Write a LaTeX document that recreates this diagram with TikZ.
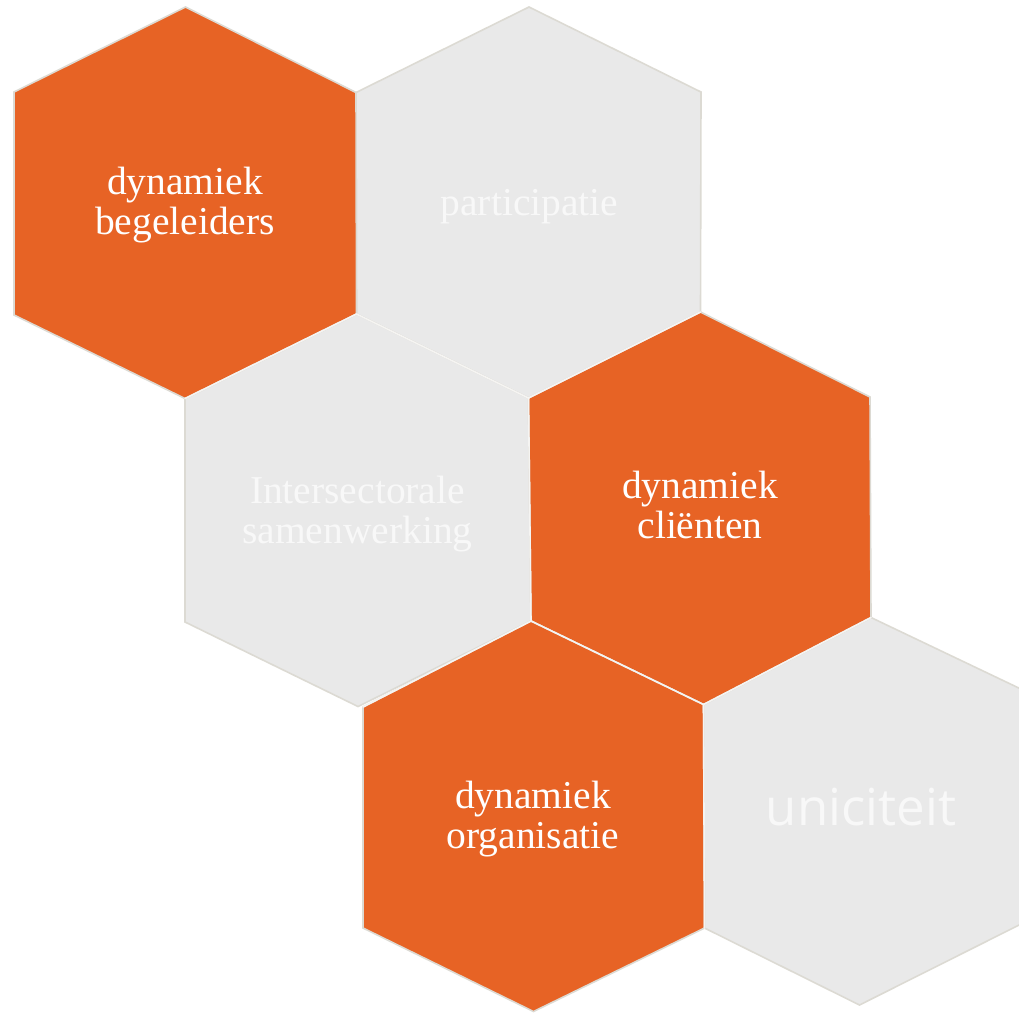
\documentclass[tikz,border=0pt]{standalone}
\usepackage{fontspec}
\setmainfont{Liberation Serif}
\newfontfamily\hexsans{Open Sans}
\definecolor{hexorange}{RGB}{231,99,37}
\definecolor{hexgrey}{RGB}{233,233,233}
\definecolor{hexedge}{RGB}{220,218,211}
\definecolor{hexinner}{RGB}{245,244,242}
\definecolor{greytext}{RGB}{248,248,248}
\begin{document}
\begin{tikzpicture}[x=1pt,y=-1pt,
  orangehex/.style={fill=hexorange,draw=hexedge,line width=1.6pt,line join=miter},
  greyhex/.style={fill=hexgrey,draw=hexedge,line width=1.6pt,line join=miter},
  inneredge/.style={draw=hexinner,line width=1.6pt,line cap=round},
  serlabel/.style={anchor=base,inner sep=0pt,font=\fontsize{39.5}{40}\selectfont},
  onorange/.style={serlabel,text=white},
  ongrey/.style={serlabel,text=greytext}]
\useasboundingbox (0,0) rectangle (1019,1013);
\clip (0,0) rectangle (1019,1013);
% vertices
\coordinate (p1) at (185.5,7);
\coordinate (p2) at (14,92);
\coordinate (p3) at (14,315);
\coordinate (p4) at (185,398.5);
\coordinate (p5) at (356,92.5);
\coordinate (p6) at (356.5,314);
\coordinate (p7) at (529,7);
\coordinate (p8) at (701,92);
\coordinate (p9) at (700.5,312);
\coordinate (p10) at (528.5,398);
\coordinate (p11) at (185,622);
\coordinate (p12) at (358,706.5);
\coordinate (p13) at (531,621);
\coordinate (p14) at (870,397);
\coordinate (p15) at (871,617.5);
\coordinate (p16) at (703.5,704.5);
\coordinate (p18) at (363,707);
\coordinate (p19) at (704.5,928);
\coordinate (p20) at (533.5,1011.5);
\coordinate (p21) at (363,928);
\coordinate (p22) at (859.5,1005);
\coordinate (p23) at (1045,912);
\coordinate (p24) at (1045,700.5);
% grey hexagons
\draw[greyhex] (p7) -- (p8) -- (p9) -- (p10) -- (p6) -- (p5) -- cycle;
\draw[greyhex] (p6) -- (p10) -- (p13) -- (p12) -- (p11) -- (p4) -- cycle;
\draw[greyhex] (p15) -- (p24) -- (p23) -- (p22) -- (p19) -- (p16) -- cycle;
% orange hexagons
\draw[orangehex] (p1) -- (p5) -- (p6) -- (p4) -- (p3) -- (p2) -- cycle;
\draw[orangehex] (p9) -- (p14) -- (p15) -- (p16) -- (p13) -- (p10) -- cycle;
\draw[orangehex] (p13) -- (p16) -- (p19) -- (p20) -- (p21) -- (p18) -- cycle;
% shared edges
\draw[inneredge] (p4) -- (p6);
\draw[inneredge] (p6) -- (p10);
\draw[inneredge] (p10) -- (p9);
\draw[inneredge] (p10) -- (p13);
\draw[inneredge] (p13) -- (p16);
\draw[inneredge] (p15) -- (p16);
\draw[inneredge] (p16) -- (p19);
\draw[inneredge] (p13) -- (p18);
% labels
\node[onorange] (t1) at (185,194) {\begin{tabular}[t]{@{}c@{}}dynamiek\\begeleiders\end{tabular}};
\node[ongrey] (t2) at (529.5,215) {participatie};
\node[ongrey] (t3) at (357.5,503) {\begin{tabular}[t]{@{}c@{}}Intersectorale\\samenwerking\end{tabular}};
\node[onorange] (t4) at (700,498) {\begin{tabular}[t]{@{}c@{}}dynamiek\\cliënten\end{tabular}};
\node[onorange] (t5) at (533,808) {\begin{tabular}[t]{@{}c@{}}dynamiek\\organisatie\end{tabular}};
\node[anchor=base,inner sep=0pt,text=greytext,font=\hexsans\fontsize{51}{51}\selectfont] (t6) at (861,825) {uniciteit};
\end{tikzpicture}
\end{document}
